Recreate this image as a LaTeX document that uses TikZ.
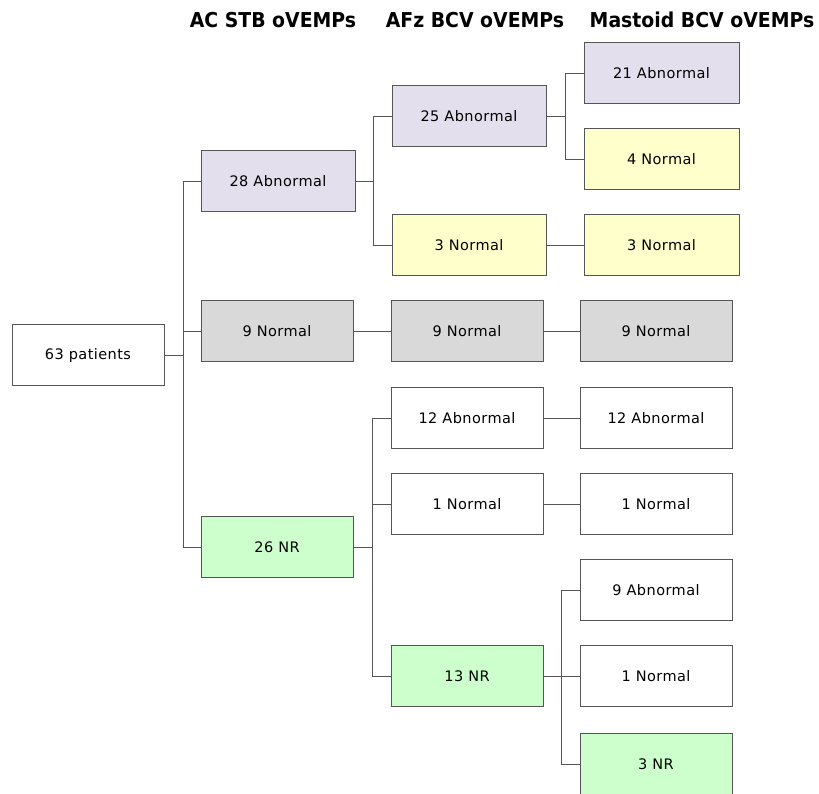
\documentclass[tikz,border=0pt]{standalone}
\usepackage{fontspec}
\setmainfont{DejaVu Sans}
\newfontfamily\boxfont[LetterSpace=3]{DejaVu Sans}
\newfontfamily\headfont[FakeStretch=0.92]{DejaVu Sans Bold}
\usetikzlibrary{positioning}
\definecolor{lilac}{HTML}{E4DFEC}
\definecolor{paleyellow}{HTML}{FFFFCC}
\definecolor{palegrey}{HTML}{D9D9D9}
\definecolor{palegreen}{HTML}{CCFFCC}
\definecolor{edgegrey}{HTML}{555555}
\tikzset{
	box/.style = {draw=edgegrey, line width=0.8pt, minimum width=152pt, minimum height=61pt,
		inner sep=0pt, font=\boxfont\fontsize{14.5}{16}\selectfont},
	abn/.style = {box, fill=lilac},
	nrm/.style = {box, fill=paleyellow},
	gry/.style = {box, fill=palegrey},
	nr/.style = {box, fill=palegreen},
	head/.style = {font=\headfont\fontsize{20.5}{22}\selectfont, anchor=base},
	link/.style = {draw=edgegrey, line width=0.8pt}
}
\begin{document}
\begin{tikzpicture}[x=1pt, y=-1pt]
	\useasboundingbox (0,0) rectangle (819,793);
	% column titles
	\node[head] (hA) at (273,27) {AC STB oVEMPs};
	\node[head] (hB) at (475,27) {AFz BCV oVEMPs};
	\node[head] (hC) at (702,27) {Mastoid BCV oVEMPs};
	% root
	\node[box, minimum width=152pt] (pat) at (88,355) {63 patients};
	% AC STB
	\node[abn, minimum width=154pt] (a28) at (278,181) {28 Abnormal};
	\node[gry] (a9) at (277,331) {9 Normal};
	\node[nr] (a26) at (277,547) {26 NR};
	% AFz BCV
	\node[abn, minimum width=154pt] (b25) at (469,116) {25 Abnormal};
	\node[nrm, minimum width=154pt] (b3) at (469,245) {3 Normal};
	\node[gry] (b9) at (467,331) {9 Normal};
	\node[box] (b12) at (467,418) {12 Abnormal};
	\node[box] (b1) at (467,504) {1 Normal};
	\node[nr] (b13) at (467,676) {13 NR};
	% Mastoid BCV
	\node[abn, minimum width=155pt] (c21) at (661.5,73) {21 Abnormal};
	\node[nrm, minimum width=155pt] (c4) at (661.5,159) {4 Normal};
	\node[nrm, minimum width=155pt] (c3) at (661.5,245) {3 Normal};
	\node[gry] (c9) at (656,331) {9 Normal};
	\node[box] (c12) at (656,418) {12 Abnormal};
	\node[box] (c1) at (656,504) {1 Normal};
	\node[box] (c9a) at (656,590) {9 Abnormal};
	\node[box] (c1b) at (656,676) {1 Normal};
	\node[nr] (c3nr) at (656,764) {3 NR};
	% junctions
	\coordinate (j0) at (183,355);
	\coordinate (j1) at (373,181);
	\coordinate (j2) at (372,547);
	\coordinate (j3) at (565,116);
	\coordinate (j4) at (561,676);
	% connectors
	\draw[link] (pat.east) -- (j0);
	\draw[link] (j0) |- (a28.west);
	\draw[link] (j0) |- (a9.west);
	\draw[link] (j0) |- (a26.west);
	\draw[link] (a28.east) -- (j1);
	\draw[link] (j1) |- (b25.west);
	\draw[link] (j1) |- (b3.west);
	\draw[link] (a9.east) -- (b9.west);
	\draw[link] (a26.east) -- (j2);
	\draw[link] (j2) |- (b12.west);
	\draw[link] (j2) |- (b1.west);
	\draw[link] (j2) |- (b13.west);
	\draw[link] (b25.east) -- (j3);
	\draw[link] (j3) |- (c21.west);
	\draw[link] (j3) |- (c4.west);
	\draw[link] (b3.east) -- (c3.west);
	\draw[link] (b9.east) -- (c9.west);
	\draw[link] (b12.east) -- (c12.west);
	\draw[link] (b1.east) -- (c1.west);
	\draw[link] (b13.east) -- (c1b.west);
	\draw[link] (j4) |- (c9a.west);
	\draw[link] (j4) |- (c3nr.west);
\end{tikzpicture}
\end{document}
